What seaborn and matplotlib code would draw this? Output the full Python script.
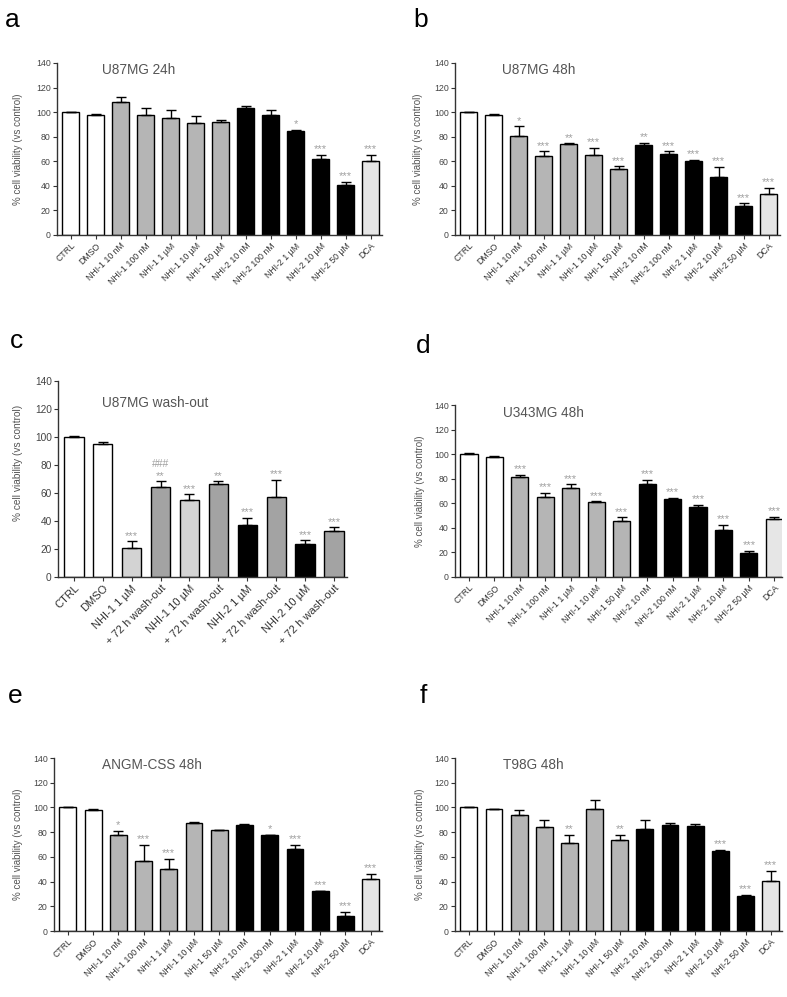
import numpy as np
import pandas as pd
import seaborn as sns
import matplotlib.pyplot as plt

# bar labels
labels13 = ['CTRL', 'DMSO', 'NHI-1 10 nM', 'NHI-1 100 nM', 'NHI-1 1 µM', 'NHI-1 10 µM', 'NHI-1 50 µM',
            'NHI-2 10 nM', 'NHI-2 100 nM', 'NHI-2 1 µM', 'NHI-2 10 µM', 'NHI-2 50 µM', 'DCA']
labels_c = ['CTRL', 'DMSO', 'NHI-1 1 µM', '+ 72 h wash-out', 'NHI-1 10 µM', '+ 72 h wash-out',
            'NHI-2 1 µM', '+ 72 h wash-out', 'NHI-2 10 µM', '+ 72 h wash-out']

# a - U87MG 24h
a_mean = [100, 98, 108, 98, 95, 91, 92, 103, 98, 85, 61.5, 40.5, 60.5]
a_err = [0, 0.5, 4.5, 5, 7, 6, 1.5, 2, 4, 0.8, 3.5, 2.5, 5]
a_sig = ['', '', '', '', '', '', '', '', '', '*', '***', '***', '***']

# b - U87MG 48h
b_mean = [100.5, 98, 80.5, 64, 73.7, 65, 53.7, 72.9, 66, 60.4, 46.9, 23.8, 33.3]
b_err = [0, 0.5, 8, 4, 0.8, 6, 2.3, 2, 2, 0.6, 8.6, 2, 5]
b_sig = ['', '', '*', '***', '**', '***', '***', '**', '***', '***', '***', '***', '***']

# c - U87MG wash-out
c_mean = [100, 95.3, 20.6, 64, 54.8, 66.4, 37, 57.2, 23.5, 32.7]
c_err = [0.8, 0.8, 4.8, 4.3, 4.2, 1.9, 5.5, 12.1, 2.6, 2.7]
c_sig = ['', '', '***', '**', '***', '**', '***', '***', '***', '***']
c_sig2 = ['', '', '', '###', '', '', '', '', '', '']

# d - U343MG 48h
d_mean = [100.2, 98, 81, 65.5, 72.3, 60.7, 45.2, 75.8, 63.6, 56.9, 38.5, 19.5, 47.1]
d_err = [0.5, 0.6, 1.9, 3, 3, 0.8, 3.3, 3.2, 0.6, 2.1, 4, 1.9, 1.9]
d_sig = ['', ''] + ['***'] * 11

# e - ANGM-CSS 48h
e_mean = [100.5, 98, 77.8, 56.8, 50, 87.5, 81.4, 85.5, 77.8, 66.2, 32.7, 12.4, 42.2]
e_err = [0, 0.5, 3, 12.7, 8.6, 0.6, 0, 0.8, 0, 3.3, 0, 3.3, 4]
e_sig = ['', '', '*', '***', '***', '', '', '', '*', '***', '***', '***', '***']

# f - T98G 48h
f_mean = [100.5, 98.9, 94, 83.8, 71, 98.9, 74, 82.7, 85.4, 84.6, 65.1, 28.5, 40.8]
f_err = [0, 0, 4, 5.7, 7, 7.1, 4, 6.8, 2.2, 1.9, 0.8, 0.8, 7.7]
f_sig = ['', '', '', '', '**', '', '**', '', '', '', '***', '***', '***']

# colours
W, G1, K, DCA = 'white', '#b5b5b5', 'black', '#e6e6e6'
colors13 = [W, W] + [G1] * 5 + [K] * 5 + [DCA]
LG, DG = '#d3d3d3', '#a3a3a3'
colors_c = [W, W, LG, DG, LG, DG, K, DG, K, DG]

sns.set_style('ticks')
plt.rcParams['font.family'] = ['Liberation Sans', 'DejaVu Sans']

fig = plt.figure(figsize=(7.87, 9.97), dpi=100)
FW, FH = 787, 997


def rect(x0, x1, ytop, ybot):
    return [x0 / FW, 1 - ybot / FH, (x1 - x0) / FW, (ybot - ytop) / FH]


def draw_panel(r, labels, means, errs, sigs, colors, title, tx, ty, xlim,
               fs_tick=6.3, fs_x=6.3, fs_lab=7, ylab_x=-0.1, ylab_y=0.5, sigs2=None):
    ax = fig.add_axes(r)
    n = len(means)
    df = pd.DataFrame({'pos': range(n), 'val': means})
    sns.barplot(data=df, x='pos', y='val', hue='pos', palette=dict(enumerate(colors)),
                legend=False, edgecolor='black', linewidth=1, width=0.67, ax=ax)
    ax.errorbar(df['pos'], means, yerr=[np.zeros(n), errs], fmt='none', ecolor='black',
                elinewidth=1, capsize=3.5, capthick=1)
    for i, s in enumerate(sigs):
        if s:
            ax.text(i, means[i] + errs[i] + 0.5, s, ha='center', va='bottom',
                    fontsize=8, color='#a0a0a0')
    if sigs2:
        for i, s in enumerate(sigs2):
            if s:
                ax.text(i, means[i] + errs[i] + 9, s, ha='center', va='bottom',
                        fontsize=7.5, color='#a0a0a0')
    ax.set_ylim(0, 140)
    ax.set_yticks(range(0, 141, 20))
    ax.set_xlim(*xlim)
    ax.set_xticks(range(n))
    ax.set_xticklabels(labels, rotation=45, ha='right', rotation_mode='anchor',
                       fontsize=fs_x, color='#333333')
    ax.tick_params(axis='y', labelsize=fs_tick, labelcolor='#444444')
    ax.tick_params(axis='both', length=3, width=0.8, color='#333333', pad=1.5)
    ax.set_xlabel('')
    ax.set_ylabel('% cell viability (vs control)', fontsize=fs_lab, color='#555555')
    ax.yaxis.set_label_coords(ylab_x, ylab_y)
    sns.despine(ax=ax)
    for sp in ['left', 'bottom']:
        ax.spines[sp].set_color('#333333')
        ax.spines[sp].set_linewidth(1)
    ax.text(tx, ty, title, transform=ax.transAxes, fontsize=9.8, color='#555555',
            ha='left', va='center')
    return ax


xl13 = (-0.55, 12.45)
draw_panel(rect(57, 382, 63, 235), labels13, a_mean, a_err, a_sig, colors13,
           'U87MG 24h', 0.14, 0.96, xl13, ylab_x=-0.105)
draw_panel(rect(455, 780, 63, 235), labels13, b_mean, b_err, b_sig, colors13,
           'U87MG 48h', 0.145, 0.96, xl13, ylab_x=-0.098)
axc = draw_panel(rect(58, 347, 381, 577), labels_c, c_mean, c_err, c_sig, colors_c,
                 'U87MG wash-out', 0.152, 0.888, (-0.55, 9.45), fs_tick=7.3, fs_x=8,
                 fs_lab=7.3, ylab_x=-0.121, ylab_y=0.58, sigs2=c_sig2)
draw_panel(rect(455, 782, 405, 577), labels13, d_mean, d_err, d_sig, colors13,
           'U343MG 48h', 0.147, 0.953, (-0.55, 12.3), ylab_x=-0.092)
draw_panel(rect(54, 382, 758, 931), labels13, e_mean, e_err, e_sig, colors13,
           'ANGM-CSS 48h', 0.146, 0.96, xl13, ylab_x=-0.095)
draw_panel(rect(455, 782, 758, 931), labels13, f_mean, f_err, f_sig, colors13,
           'T98G 48h', 0.146, 0.96, xl13, ylab_x=-0.092)

# panel letters
for letter, x, y in [('a', 5, 27), ('b', 413, 27), ('c', 10, 348),
                     ('d', 416, 353), ('e', 8, 703), ('f', 420, 703)]:
    fig.text(x / FW, 1 - y / FH, letter, fontsize=19, va='baseline', ha='left', color='black')

fig.savefig('out.png', dpi=100)
